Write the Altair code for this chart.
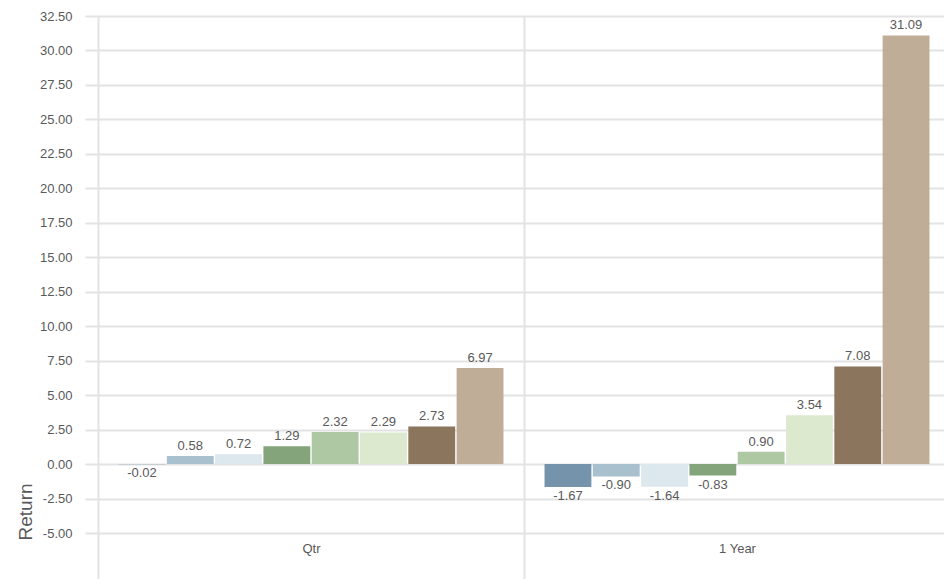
import altair as alt
import pandas as pd

# Return periods (x groups) and the eight series drawn inside each group
periods = ["Qtr", "1 Year"]
series = ["Series 1", "Series 2", "Series 3", "Series 4",
          "Series 5", "Series 6", "Series 7", "Series 8"]

qtr_returns = [-0.02, 0.58, 0.72, 1.29, 2.32, 2.29, 2.73, 6.97]
year_returns = [-1.67, -0.90, -1.64, -0.83, 0.90, 3.54, 7.08, 31.09]

series_colors = ["#7594ac", "#a9c0cf", "#dce7ee", "#84a47c",
                 "#aec8a4", "#dde9cf", "#8b755c", "#c0ad97"]

y_ticks = [-5.0, -2.5, 0.0, 2.5, 5.0, 7.5, 10.0, 12.5, 15.0, 17.5,
           20.0, 22.5, 25.0, 27.5, 30.0, 32.5]

rows = []
for period, vals in zip(periods, [qtr_returns, year_returns]):
    for name, v in zip(series, vals):
        rows.append({"period": period, "series": name, "ret": v})
df = pd.DataFrame(rows)

GRID = "#e3e3e3"
TEXT = "#595959"
FONT = "Liberation Sans"

# two-decimal numbers with a plain hyphen as the minus sign
FMT_VALUE = "replace(format(datum.value, '.2f'), '\u2212', '-')"
FMT_RET = "replace(format(datum.ret, '.2f'), '\u2212', '-')"

x_enc = alt.X(
    "period:N",
    sort=periods,
    scale=alt.Scale(range=[0, 852], paddingInner=0, paddingOuter=0),
    axis=alt.Axis(
        title=None,
        tickBand="extent",
        grid=True, gridColor=GRID, gridWidth=2,
        ticks=True, tickSize=46, tickColor=GRID, tickWidth=2,
        domain=False,
        labelAngle=0,
        labelPadding=-37,
        labelFont=FONT, labelFontSize=13, labelColor=TEXT,
    ),
)

y_enc = alt.Y(
    "ret:Q",
    scale=alt.Scale(domain=[-5, 32.5], nice=False, zero=False),
    axis=alt.Axis(
        values=y_ticks,
        labelExpr=FMT_VALUE,
        title="Return",
        titleFont=FONT, titleFontSize=19, titleFontWeight="normal",
        titleColor=TEXT,
        titleAngle=270,
        titleAlign="left",
        titleBaseline="middle",
        titleX=-73,
        titleY=524,
        grid=True, gridColor=GRID, gridWidth=2,
        ticks=True, tickSize=13, tickColor=GRID, tickWidth=2,
        domain=False,
        labelPadding=13,
        labelFont=FONT, labelFontSize=13, labelColor=TEXT,
    ),
)

x_off = alt.XOffset(
    "series:N",
    sort=series,
    scale=alt.Scale(paddingInner=0.03, paddingOuter=0.425),
)

color_enc = alt.Color(
    "series:N",
    sort=series,
    scale=alt.Scale(domain=series, range=series_colors),
    legend=None,
)

bars = alt.Chart().mark_bar().encode(
    x=x_enc, xOffset=x_off, y=y_enc, color=color_enc
)

pos_labels = alt.Chart().transform_filter("datum.ret >= 0").transform_calculate(
    label=FMT_RET
).mark_text(
    baseline="bottom", dy=-3, font=FONT, fontSize=13, color=TEXT
).encode(x=x_enc, xOffset=x_off, y=y_enc, text="label:N")

neg_labels = alt.Chart().transform_filter("datum.ret < 0").transform_calculate(
    label=FMT_RET
).mark_text(
    baseline="top", dy=3, font=FONT, fontSize=13, color=TEXT
).encode(x=x_enc, xOffset=x_off, y=y_enc, text="label:N")

chart = alt.layer(bars, pos_labels, neg_labels, data=df).properties(
    width=846,
    height=517,
    autosize=alt.AutoSizeParams(type="none"),
    padding={"left": 98, "top": 16, "right": 0, "bottom": 46},
    background="white",
).configure_view(stroke=None)

chart.save("out.html", embed_options={"renderer": "svg", "actions": False})
